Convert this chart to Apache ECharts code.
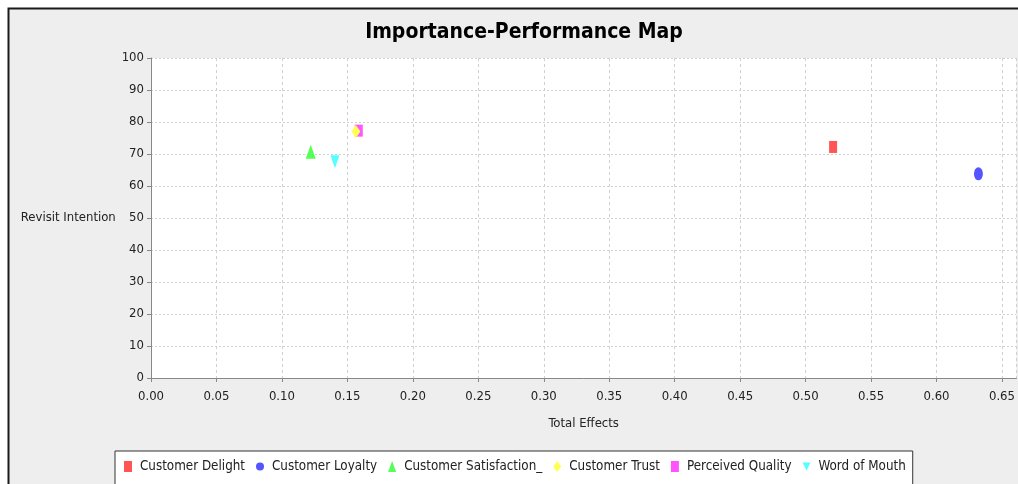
<!DOCTYPE html>
<html>
<head>
<meta charset="utf-8">
<script src="https://cdn.jsdelivr.net/npm/echarts@6/dist/echarts.min.js"></script>
<style>
html,body{margin:0;padding:0;background:#fff;}
#chart{width:1018px;height:484px;}
</style>
</head>
<body>
<div id="chart"></div>
<script>
const seriesNames = ['Customer Delight','Customer Loyalty','Customer Satisfaction_','Customer Trust','Perceived Quality','Word of Mouth'];
const totalEffects = [0.521, 0.632, 0.122, 0.1565, 0.1587, 0.1405];
const revisitIntention = [72.2, 63.8, 70.7, 77.0, 77.3, 67.6];
const xTicks = [0.00,0.05,0.10,0.15,0.20,0.25,0.30,0.35,0.40,0.45,0.50,0.55,0.60,0.65];
const yTicks = [0,10,20,30,40,50,60,70,80,90,100];

const colors = ['#ff5555','#5555ff','#55ff55','#ffff55','#ff55ff','#55ffff'];
const symbols = ['rect','circle','triangle','diamond','rect','path://M0,0 L10,0 L5,10 Z'];
const sizes = [[8,12],[9,13],[10,14],[9,13],[8,12],[9,13]];
const FONT = '"DejaVu Sans Condensed", "Liberation Sans", Arial, sans-serif';

const chart = echarts.init(document.getElementById('chart'), null, {renderer:'canvas'});
const option = {
  animation: false,
  backgroundColor: '#ffffff',
  graphic: [{
    type: 'rect', z: -10, silent: true,
    shape: {x: 8.5, y: 8.5, width: 1100, height: 1000},
    style: {fill: '#eeeeee', stroke: '#1a1a1a', lineWidth: 2}
  }],
  title: {
    text: 'Importance-Performance Map',
    left: 519, textAlign: 'center', top: 17,
    textStyle: {fontFamily: FONT, fontSize: 21, fontWeight: 'bold', color: '#000'}
  },
  grid: {left: 151, top: 58, right: 0, bottom: 106, show: true, backgroundColor: '#ffffff', borderWidth: 0},
  xAxis: {
    type: 'value', min: 0, max: 0.661, interval: 0.05,
    name: 'Total Effects', nameLocation: 'middle', nameGap: 39,
    nameTextStyle: {fontFamily: FONT, fontSize: 13, color: '#222'},
    axisLine: {show: true, onZero: false, lineStyle: {color: '#888', width: 1}},
    axisTick: {show: true, length: 4, lineStyle: {color: '#888'}},
    axisLabel: {
      margin: 12, showMaxLabel: false, fontFamily: FONT, fontSize: 13, color: '#222',
      formatter: v => { const t = xTicks.find(k => Math.abs(k - v) < 1e-6); return t === undefined ? '' : t.toFixed(2); }
    },
    splitLine: {show: true, lineStyle: {color: '#d0d0d0', type: [3,3], width: 1}}
  },
  yAxis: {
    type: 'value', min: 0, max: 100, interval: 10,
    name: 'Revisit Intention', nameLocation: 'middle', nameGap: 35, nameRotate: 0,
    nameTextStyle: {fontFamily: FONT, fontSize: 13, color: '#222'},
    axisLine: {show: true, lineStyle: {color: '#888', width: 1}},
    axisTick: {show: true, length: 4, lineStyle: {color: '#888'}},
    axisLabel: {
      margin: 7, fontFamily: FONT, fontSize: 13, color: '#222',
      formatter: v => yTicks.includes(v) ? String(v) : ''
    },
    splitLine: {show: true, lineStyle: {color: '#d0d0d0', type: [2,2], width: 1}}
  },
  legend: {
    data: seriesNames,
    left: 115, top: 451,
    padding: [9, 7, 30, 9],
    itemGap: 11, itemWidth: 8, itemHeight: 11,
    backgroundColor: '#ffffff', borderColor: '#333', borderWidth: 1,
    textStyle: {fontFamily: FONT, fontSize: 13.3, color: '#222', padding: [0,0,0,3]}
  },
  series: seriesNames.map((name, i) => ({
    name: name,
    type: 'scatter',
    z: 10 - i,
    symbol: symbols[i],
    symbolSize: sizes[i],
    symbolKeepAspect: false,
    itemStyle: {color: colors[i], opacity: 1},
    data: [[totalEffects[i], revisitIntention[i]]]
  }))
};
chart.setOption(option);
</script>
</body>
</html>
